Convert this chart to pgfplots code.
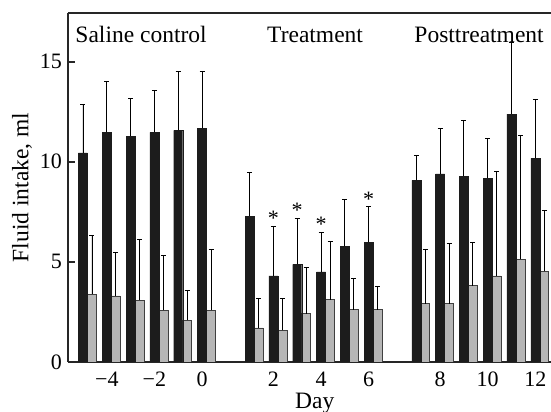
\documentclass[border=0pt]{standalone}
\usepackage{fontspec}
\setmainfont{Liberation Serif}
\usepackage{pgfplots}
\pgfplotsset{compat=1.18}
\usepackage{pgfplotstable}
\usetikzlibrary{calc}
\definecolor{barblack}{RGB}{28,28,28}
\definecolor{bargray}{RGB}{182,182,182}
\newcommand\lf{\fontsize{23.5bp}{27bp}\selectfont}
\newcommand\tf{\fontsize{22bp}{26bp}\selectfont}

% p = slot on the x axis (days -5..0 -> 0..5, 1..6 -> 7..12, 7..12 -> 14..19)
% b/g = black / grey bar, be/ge = upper error
\pgfplotstableread{
p  b      be    g     ge
0  10.45  2.42  3.39  2.94
1  11.47  2.53  3.30  2.17
2  11.28  1.89  3.08  3.02
3  11.47  2.08  2.58  2.75
4  11.57  2.96  2.08  1.50
5  11.68  2.85  2.58  3.05
7  7.28   2.17  1.70  1.47
8  4.30   2.48  1.58  1.57
9  4.88   2.29  2.42  2.30
10 4.50   1.97  3.12  2.91
11 5.78   2.34  2.62  1.55
12 5.98   1.77  2.62  1.13
14 9.07   1.23  2.92  2.70
15 9.40   2.27  2.92  3.00
16 9.28   2.80  3.82  2.16
17 9.18   1.97  4.30  5.20
18 12.38  3.57  5.12  6.20
19 10.17  2.95  4.53  3.05
}\intake

\begin{document}
\begin{tikzpicture}
\begin{axis}[
  name=ax,
  scale only axis, width=483bp, height=349bp,
  xmin=-0.63, xmax=19.66, ymin=0, ymax=17.43,
  axis x line=box, axis y line*=left,
  axis line style={line width=2bp, black!85},
  xtick={1,3,5,8,10,12,15,17,19},
  xticklabels={−4,−2,0,2,4,6,8,10,12},
  ytick={0,5,10,15},
  xtick style={draw=none},
  ytick style={line width=2bp, black!85},
  major tick length=7bp,
  tick align=inside,
  tick label style={font=\tf},
  xticklabel style={anchor=base, yshift=-24bp},
  yticklabel style={anchor=east, inner sep=0pt, xshift=-6bp},
  /pgf/number format/assume math mode=true,
  xlabel={Day}, ylabel={Fluid intake, ml},
  label style={font=\lf},
  xlabel style={at={(axis description cs:0.511,-0.118)}, anchor=center},
  ylabel style={at={(axis description cs:-0.0952,0.5)}, anchor=center},
]
% grey bars sit one bar width (0.378 slot) right of the black ones
\addplot[ybar, bar width=9bp, bar shift=0bp, fill=bargray, draw=black!75, line width=0.7bp,
  error bars/.cd, y dir=plus, y explicit,
  error bar style={line width=0.9bp, black},
  error mark options={rotate=90, line width=0.9bp, mark size=2.5bp}]
  table[x expr=\thisrow{p}+0.378, y=g, y error=ge] {\intake};
\addplot[ybar, bar width=9bp, bar shift=0bp, fill=barblack, draw=barblack,
  error bars/.cd, y dir=plus, y explicit,
  error bar style={line width=0.9bp, black},
  error mark options={rotate=90, line width=0.9bp, mark size=2.5bp}]
  table[x=p, y=b, y error=be] {\intake};
\addplot[draw=none, mark=none, nodes near coords, point meta=explicit symbolic,
  nodes near coords style={anchor=base, font=\tf, inner sep=0pt, yshift=0.5bp}]
  coordinates {(8,6.78)[*] (9,7.17)[*] (10,6.47)[*] (12,7.75)[*]};
\node[font=\lf, anchor=base] at (axis cs:2.44,15.98) {Saline control};
\node[font=\lf, anchor=base] at (axis cs:9.75,15.98) {Treatment};
\node[font=\lf, anchor=base] at (axis cs:16.64,15.98) {Posttreatment};
\end{axis}
\pgfresetboundingbox
\path ($(ax.south west)+(-68bp,-50bp)$) rectangle ($(ax.north east)+(0,13bp)$);
\end{tikzpicture}
\end{document}
